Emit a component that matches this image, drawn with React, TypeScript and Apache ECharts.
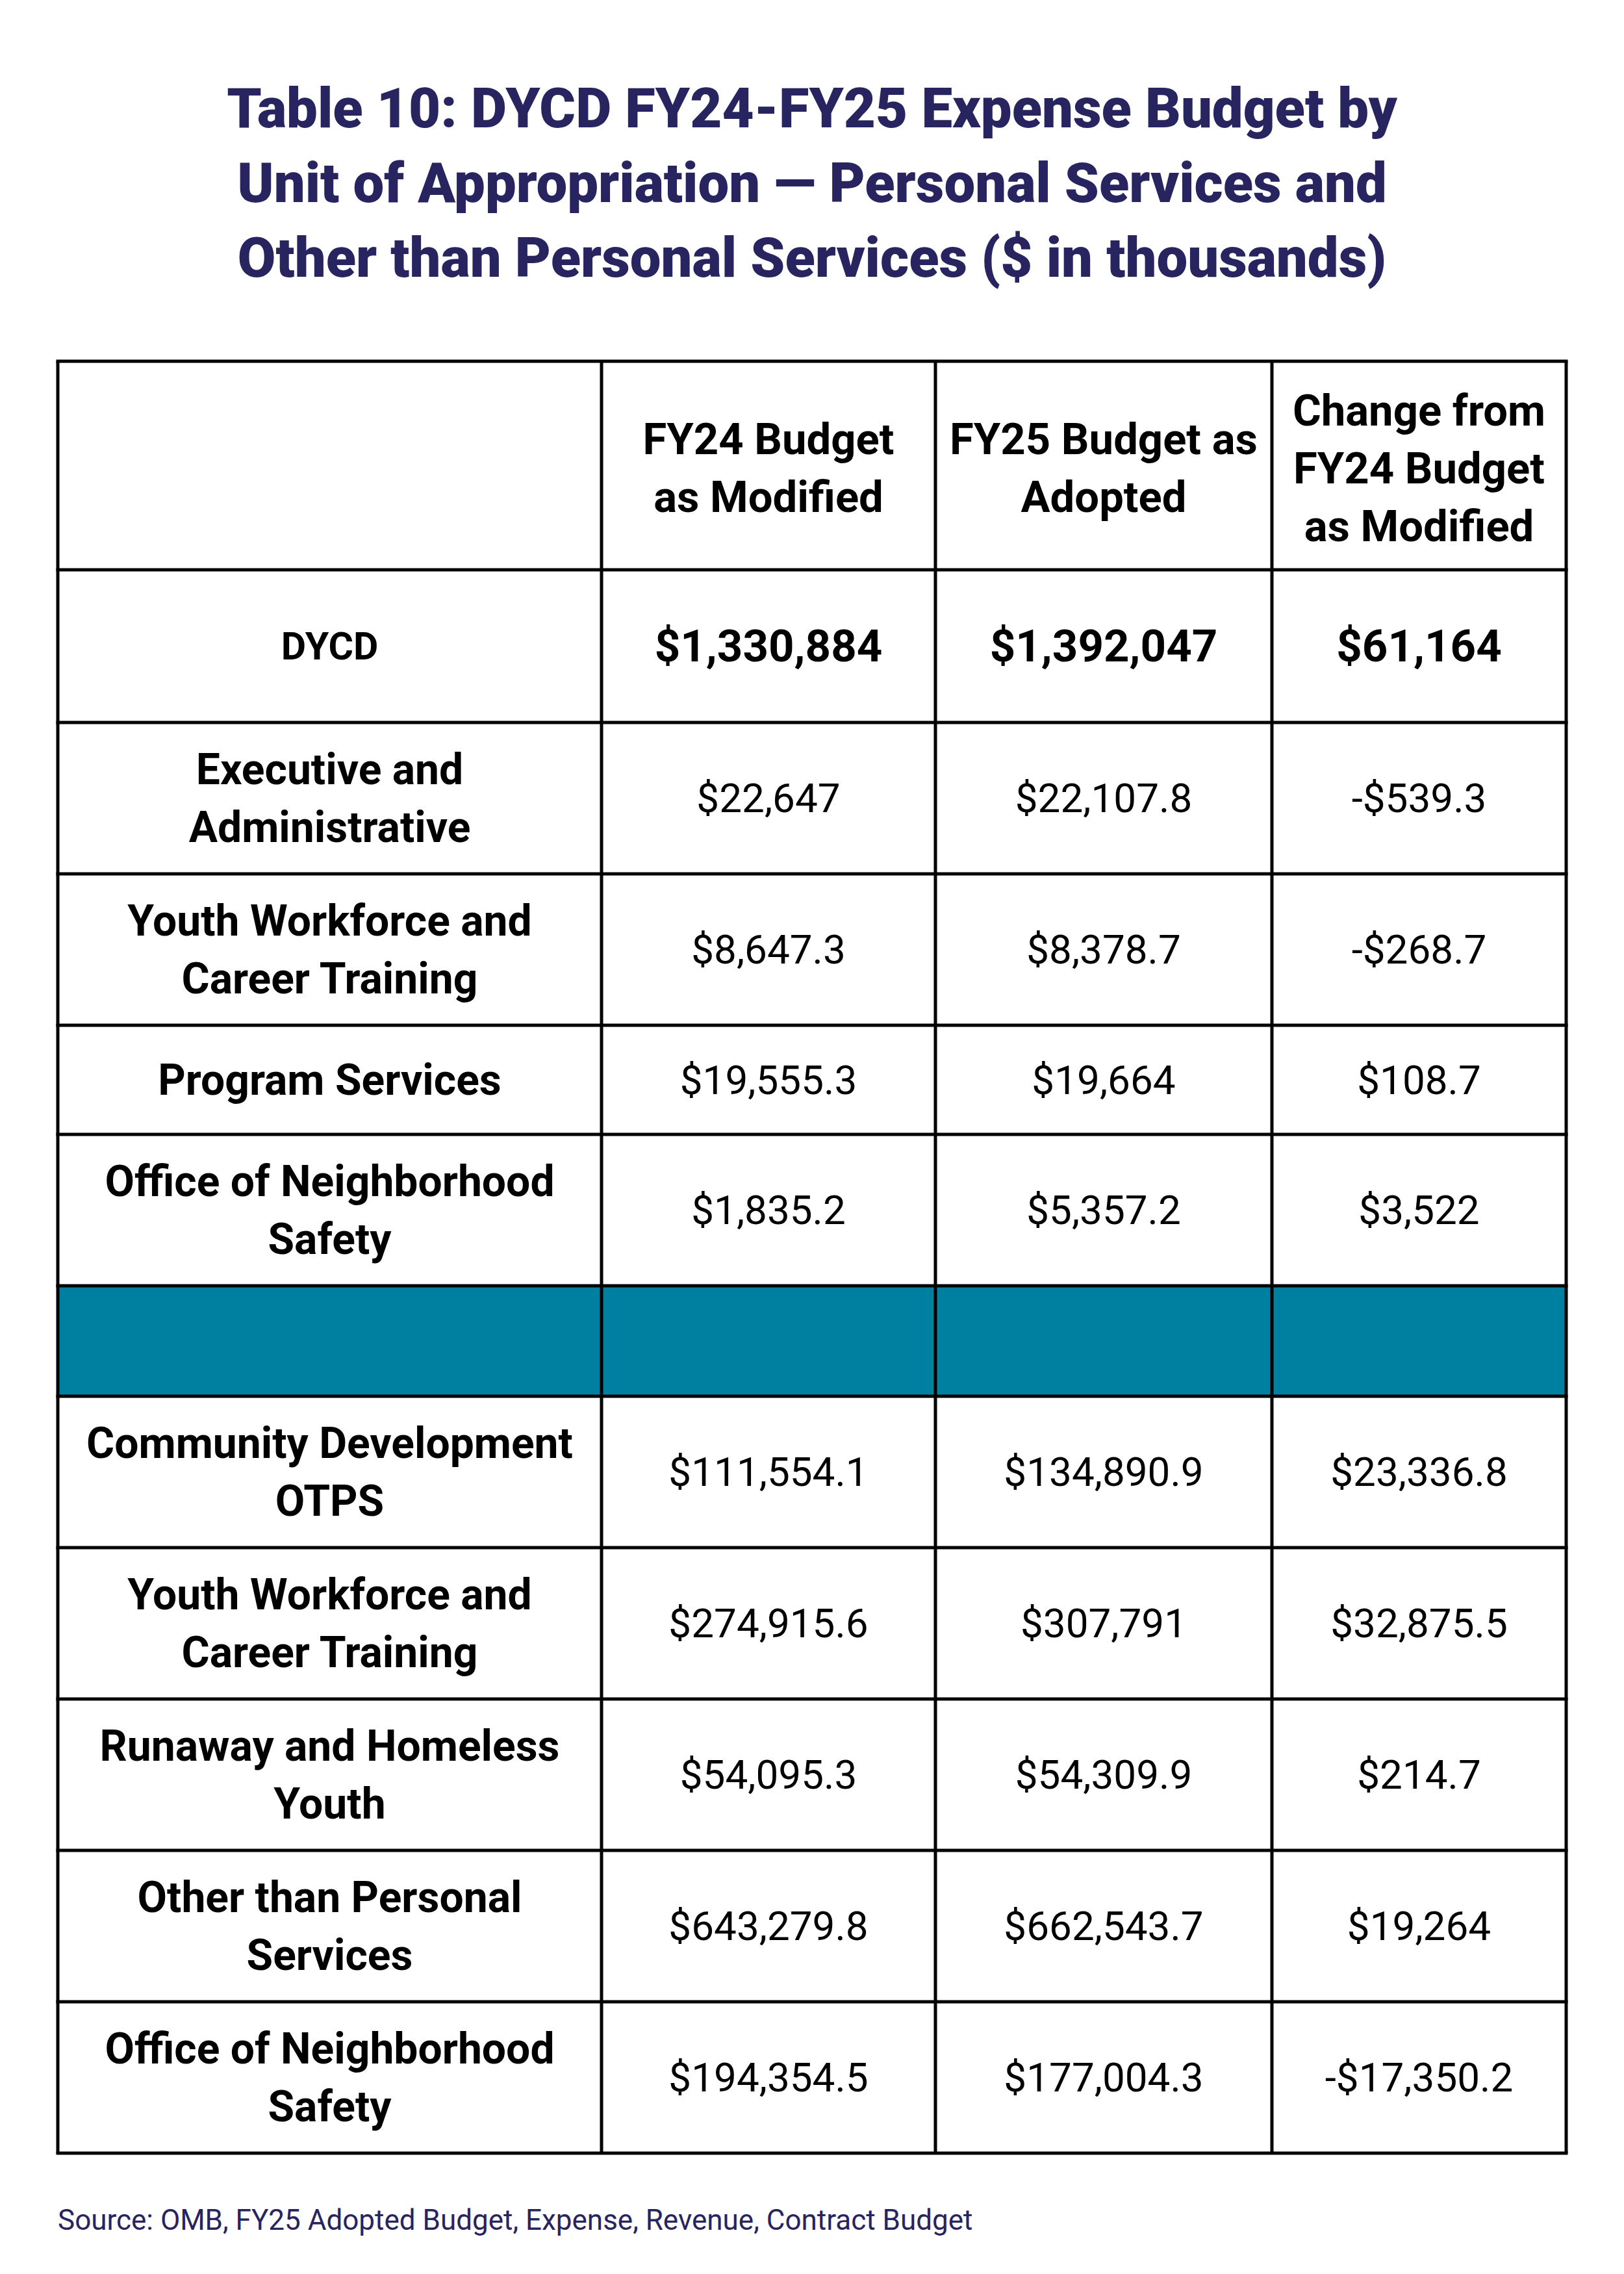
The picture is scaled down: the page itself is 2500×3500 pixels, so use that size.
import React, { useEffect, useRef } from "react";
import * as echarts from "echarts";

// ---- Data ----
const titleLines = [
  "Table 10: DYCD FY24-FY25 Expense Budget by",
  "Unit of Appropriation \u2014 Personal Services and",
  "Other than Personal Services ($ in thousands)",
];
const headers = ["", "FY24 Budget\nas Modified", "FY25 Budget as\nAdopted", "Change from\nFY24 Budget\nas Modified"];

const totalLabel = "DYCD";
const totalFY24 = 1330884;
const totalFY25 = 1392047;
const totalChange = 61164;

const psLabels = [
  "Executive and\nAdministrative",
  "Youth Workforce and\nCareer Training",
  "Program Services",
  "Office of Neighborhood\nSafety",
];
const psFY24 = [22647, 8647.3, 19555.3, 1835.2];
const psFY25 = [22107.8, 8378.7, 19664, 5357.2];
const psChange = [-539.3, -268.7, 108.7, 3522];

const otpsLabels = [
  "Community Development\nOTPS",
  "Youth Workforce and\nCareer Training",
  "Runaway and Homeless\nYouth",
  "Other than Personal\nServices",
  "Office of Neighborhood\nSafety",
];
const otpsFY24 = [111554.1, 274915.6, 54095.3, 643279.8, 194354.5];
const otpsFY25 = [134890.9, 307791, 54309.9, 662543.7, 177004.3];
const otpsChange = [23336.8, 32875.5, 214.7, 19264, -17350.2];

const sourceText = "Source: OMB, FY25 Adopted Budget, Expense, Revenue, Contract Budget";

// ---- Layout ----
const COL_X = [89, 926, 1440, 1958, 2411];
const TABLE_TOP = 556;
const HEADER_H = 321;
const TOTAL_H = 235;
const TWO_LINE_H = 233;
const ONE_LINE_H = 168;
const SEP_H = 170;
const LINE_W = 5;
const NAVY = "#27245f";
const TEAL = "#0080a0";
const FONT = "Roboto";

function fmt(v: number): string {
  const s = Math.abs(v).toLocaleString("en-US", { maximumFractionDigits: 1 });
  return (v < 0 ? "-$" : "$") + s;
}

type Row = { kind: "header" | "total" | "data" | "sep"; cells: string[]; h: number };

function buildRows(): Row[] {
  const rows: Row[] = [];
  rows.push({ kind: "header", cells: headers, h: HEADER_H });
  rows.push({ kind: "total", cells: [totalLabel, fmt(totalFY24), fmt(totalFY25), fmt(totalChange)], h: TOTAL_H });
  psLabels.forEach((l, i) =>
    rows.push({
      kind: "data",
      cells: [l, fmt(psFY24[i]), fmt(psFY25[i]), fmt(psChange[i])],
      h: l.includes("\n") ? TWO_LINE_H : ONE_LINE_H,
    })
  );
  rows.push({ kind: "sep", cells: ["", "", "", ""], h: SEP_H });
  otpsLabels.forEach((l, i) =>
    rows.push({
      kind: "data",
      cells: [l, fmt(otpsFY24[i]), fmt(otpsFY25[i]), fmt(otpsChange[i])],
      h: l.includes("\n") ? TWO_LINE_H : ONE_LINE_H,
    })
  );
  return rows;
}

export default function App() {
  const ref = useRef<HTMLDivElement>(null);
  useEffect(() => {
    if (!ref.current) return;
    const chart = echarts.init(ref.current, undefined, { renderer: "svg" });
    const rows = buildRows();
    const elements: any[] = [];

    // Title
    elements.push({
      type: "text",
      style: {
        text: titleLines.join("\n"),
        x: 1250,
        y: 282,
        fill: NAVY,
        fontSize: 85,
        fontWeight: 900,
        fontFamily: "Roboto",
        lineHeight: 115,
        textAlign: "center",
        textVerticalAlign: "middle",
      },
    });

    // Rows
    let y = TABLE_TOP;
    const rowYs: number[] = [y];
    rows.forEach((r) => {
      if (r.kind === "sep") {
        elements.push({
          type: "rect",
          shape: { x: COL_X[0], y, width: COL_X[4] - COL_X[0], height: r.h },
          style: { fill: TEAL },
        });
      }
      const cy = y + r.h / 2;
      r.cells.forEach((c, ci) => {
        if (!c) return;
        const cx = (COL_X[ci] + COL_X[ci + 1]) / 2;
        let fontSize = 62;
        let fontWeight: any = "normal";
        if (r.kind === "header") { fontSize = 67; fontWeight = "bold"; }
        else if (ci === 0) { fontSize = r.kind === "total" ? 59 : 66; fontWeight = "bold"; }
        else if (r.kind === "total") { fontSize = 69; fontWeight = "bold"; }
        elements.push({
          type: "text",
          style: {
            text: c,
            x: cx,
            y: cy + (r.kind === "header" ? 4 : 0),
            fill: "#000",
            fontSize,
            fontWeight,
            fontFamily: FONT,
            lineHeight: 89,
            textAlign: "center",
            textVerticalAlign: "middle",
          },
        });
      });
      y += r.h;
      rowYs.push(y);
    });

    // Horizontal lines
    rowYs.forEach((ly) => {
      elements.push({
        type: "line",
        shape: { x1: COL_X[0] - LINE_W / 2, y1: ly, x2: COL_X[4] + LINE_W / 2, y2: ly },
        style: { stroke: "#000", lineWidth: LINE_W },
      });
    });
    // Vertical lines
    COL_X.forEach((lx) => {
      elements.push({
        type: "line",
        shape: { x1: lx, y1: rowYs[0], x2: lx, y2: rowYs[rowYs.length - 1] },
        style: { stroke: "#000", lineWidth: LINE_W },
      });
    });

    // Source
    elements.push({
      type: "text",
      style: {
        text: sourceText,
        x: COL_X[0],
        y: 3417,
        fill: NAVY,
        fontSize: 44,
        fontFamily: FONT,
        textAlign: "left",
        textVerticalAlign: "middle",
      },
    });

    chart.setOption({
      animation: false,
      backgroundColor: "#ffffff",
      graphic: { elements },
    });
    return () => chart.dispose();
  }, []);
  return (
    <div
      ref={ref}
      style={{ position: "absolute", left: 0, top: 0, width: 2500, height: 3500 }}
    />
  );
}
